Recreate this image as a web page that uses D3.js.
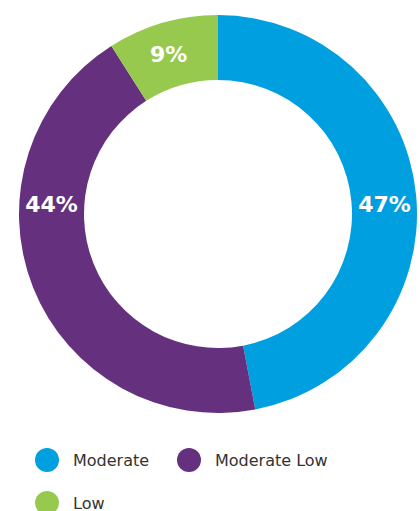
<!DOCTYPE html>
<html><head><meta charset="utf-8">
<script src="https://cdn.jsdelivr.net/npm/d3@7"></script>
<style>body{margin:0;background:#fff;}svg{display:block;}</style>
</head><body>
<svg id="chart" width="420" height="511"></svg>
<script>
const categories = ["Moderate", "Moderate Low", "Low"];
const values = [47, 44, 9];
const labels = ["47%", "44%", "9%"];
const colors = ["#009FDF", "#65317F", "#98C94F"];

const svg = d3.select("#chart");
const cx = 218, cy = 214, R = 199, r = 134;
const g = svg.append("g").attr("transform", `translate(${cx},${cy})`);

const pie = d3.pie().sort(null).value(d => d.v);
const data = pie(categories.map((c, i) => ({c, v: values[i], l: labels[i], col: colors[i]})));
const arc = d3.arc().innerRadius(r).outerRadius(R);

g.selectAll("path").data(data).join("path")
  .attr("d", arc).attr("fill", d => d.data.col);

const mid = (R + r) / 2;
// label placement: big slices labelled at the horizontal midline, small slice at centroid
function labelPos(d) {
  const span = d.endAngle - d.startAngle;
  if (span > Math.PI * 0.5) {
    const a = (d.startAngle + d.endAngle) / 2 < Math.PI ? Math.PI / 2 : 3 * Math.PI / 2;
    return [mid * Math.sin(a), -10];
  }
  const c = arc.centroid(d);
  return [c[0] - 3, c[1]];
}
g.selectAll("text.lbl").data(data).join("text")
  .attr("class", "lbl")
  .attr("x", d => labelPos(d)[0])
  .attr("y", d => labelPos(d)[1])
  .attr("text-anchor", "middle")
  .attr("dominant-baseline", "central")
  .attr("fill", "#fff")
  .attr("font-family", "'DejaVu Sans', sans-serif")
  .attr("font-weight", "bold")
  .attr("font-size", 22)
  .text(d => d.data.l);

// legend
const legendPos = [[47, 460], [189, 460], [47, 503]];
const lg = svg.append("g");
const items = lg.selectAll("g").data(categories).join("g")
  .attr("transform", (d, i) => `translate(${legendPos[i][0]},${legendPos[i][1]})`);
items.append("circle").attr("r", 12).attr("fill", (d, i) => colors[i]);
items.append("text").attr("x", 26).attr("dy", "0.35em")
  .attr("font-family", "'DejaVu Sans', sans-serif").attr("font-size", 16)
  .attr("fill", "#333").text(d => d);
</script>
</body></html>
